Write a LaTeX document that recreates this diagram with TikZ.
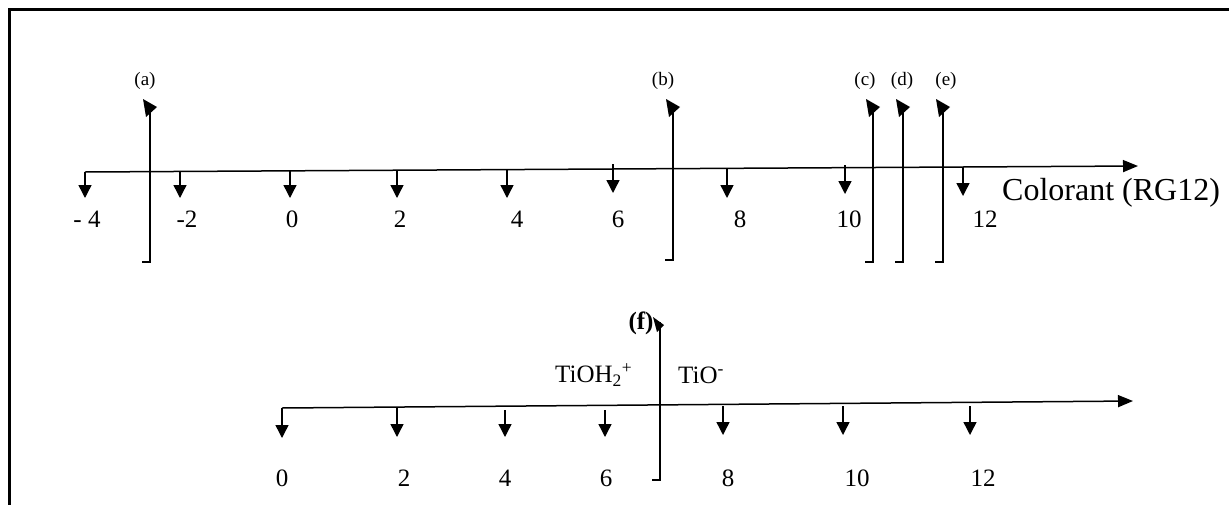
\documentclass[tikz,border=0pt]{standalone}
\usepackage{fontspec}
\setmainfont{Liberation Serif}
\usetikzlibrary{arrows.meta,calc}
\tikzset{
  axisline/.style={line width=1.5pt, -{Triangle[length=15pt,width=12pt]}},
  tickarrow/.style={line width=1.4pt, -{Triangle[length=13pt,width=13pt]}},
  vline/.style={line width=1.5pt},
  flag/.style={fill=black},
  num/.style={font=\fontsize{25}{30}\selectfont, inner sep=0pt},
  letter/.style={font=\fontsize{19}{22}\selectfont, inner sep=0pt},
  species/.style={font=\fontsize{25}{30}\selectfont, inner sep=0pt, anchor=west},
  frame/.style={line width=3pt}
}
\begin{document}
\begin{tikzpicture}[x=1pt,y=-1pt]
\useasboundingbox (0,0) rectangle (1229,504);
\clip (0,0) rectangle (1229,504);
\draw[frame] (9.5,9.5) rectangle (1300,600);

% ---------- top axis ----------
\coordinate (A0) at (85,172);
\coordinate (A1) at (1138,166);
\draw[axisline] (A0) -- (A1);
\foreach \i/\x/\ya/\yb/\lab/\lx in {1/85/172/198/{- 4}/87, 2/180/171.5/198/-2/187, 3/290/170.8/198/0/292,
  4/397/170.2/198/2/400, 5/507/169.6/198/4/517, 6/613/164/193/6/618, 7/727/168.3/198/8/740,
  8/845/165/194/10/849, 9/963/167/196/12/985}{
  \coordinate (tt\i) at (\x,\ya);
  \coordinate (tb\i) at (\x,\yb);
  \draw[tickarrow] (tt\i) -- (tb\i);
  \node[num] (tl\i) at (\lx,219) {\lab};
}
\node[font=\fontsize{32}{38}\selectfont, inner sep=0pt, anchor=west] (colorant) at (1002,193) {Colorant (RG12)};

% ---------- vertical markers (a)-(e) ----------
\foreach \n/\x/\yb/\lx in {a/150/262/145, b/673/260/663, c/873/262/865, d/903/262/902, e/943/262/946}{
  \coordinate (\n-hook) at ({\x-8},\yb);
  \coordinate (\n-bot) at (\x,\yb);
  \coordinate (\n-top) at (\x,106);
  \draw[vline] (\n-hook) -- (\n-bot) -- (\n-top);
  \fill[flag] ($(\n-top)+(-7,-7)$) -- ($(\n-top)+(7,1)$) -- ($(\n-top)+(-4,11)$) -- cycle;
  \node[letter] (\n-lab) at (\lx,81) {(\n)};
}

% ---------- bottom axis ----------
\coordinate (B0) at (282,408);
\coordinate (B1) at (1133,401);
\draw[axisline] (B0) -- (B1);
\foreach \i/\x/\ya/\yb/\lab/\lx in {1/282/408/438/0/282, 2/397/407/437/2/404, 3/505/410/437/4/505,
  4/605/410/437/6/606, 5/723/406/435/8/728, 6/843/406/435/10/857, 7/970/406/435/12/983}{
  \coordinate (bt\i) at (\x,\ya);
  \coordinate (bb\i) at (\x,\yb);
  \draw[tickarrow] (bt\i) -- (bb\i);
  \node[num] (bl\i) at (\lx,478) {\lab};
}

% ---------- marker (f) ----------
\coordinate (f-hook) at (652,480);
\coordinate (f-bot) at (660,480);
\coordinate (f-top) at (660,322);
\draw[vline] (f-hook) -- (f-bot) -- (f-top);
\fill[flag] ($(f-top)+(-7,-5)$) -- ($(f-top)+(4,3)$) -- ($(f-top)+(-3,10)$) -- cycle;
\node[font=\fontsize{25}{30}\selectfont\bfseries, inner sep=0pt] (f-lab) at (641,323) {(f)};
\node[species] (tioh) at (555,375) {TiOH\textsubscript{2}\textsuperscript{+}};
\node[species] (tio) at (678,375) {TiO\textsuperscript{-}};
\end{tikzpicture}
\end{document}
